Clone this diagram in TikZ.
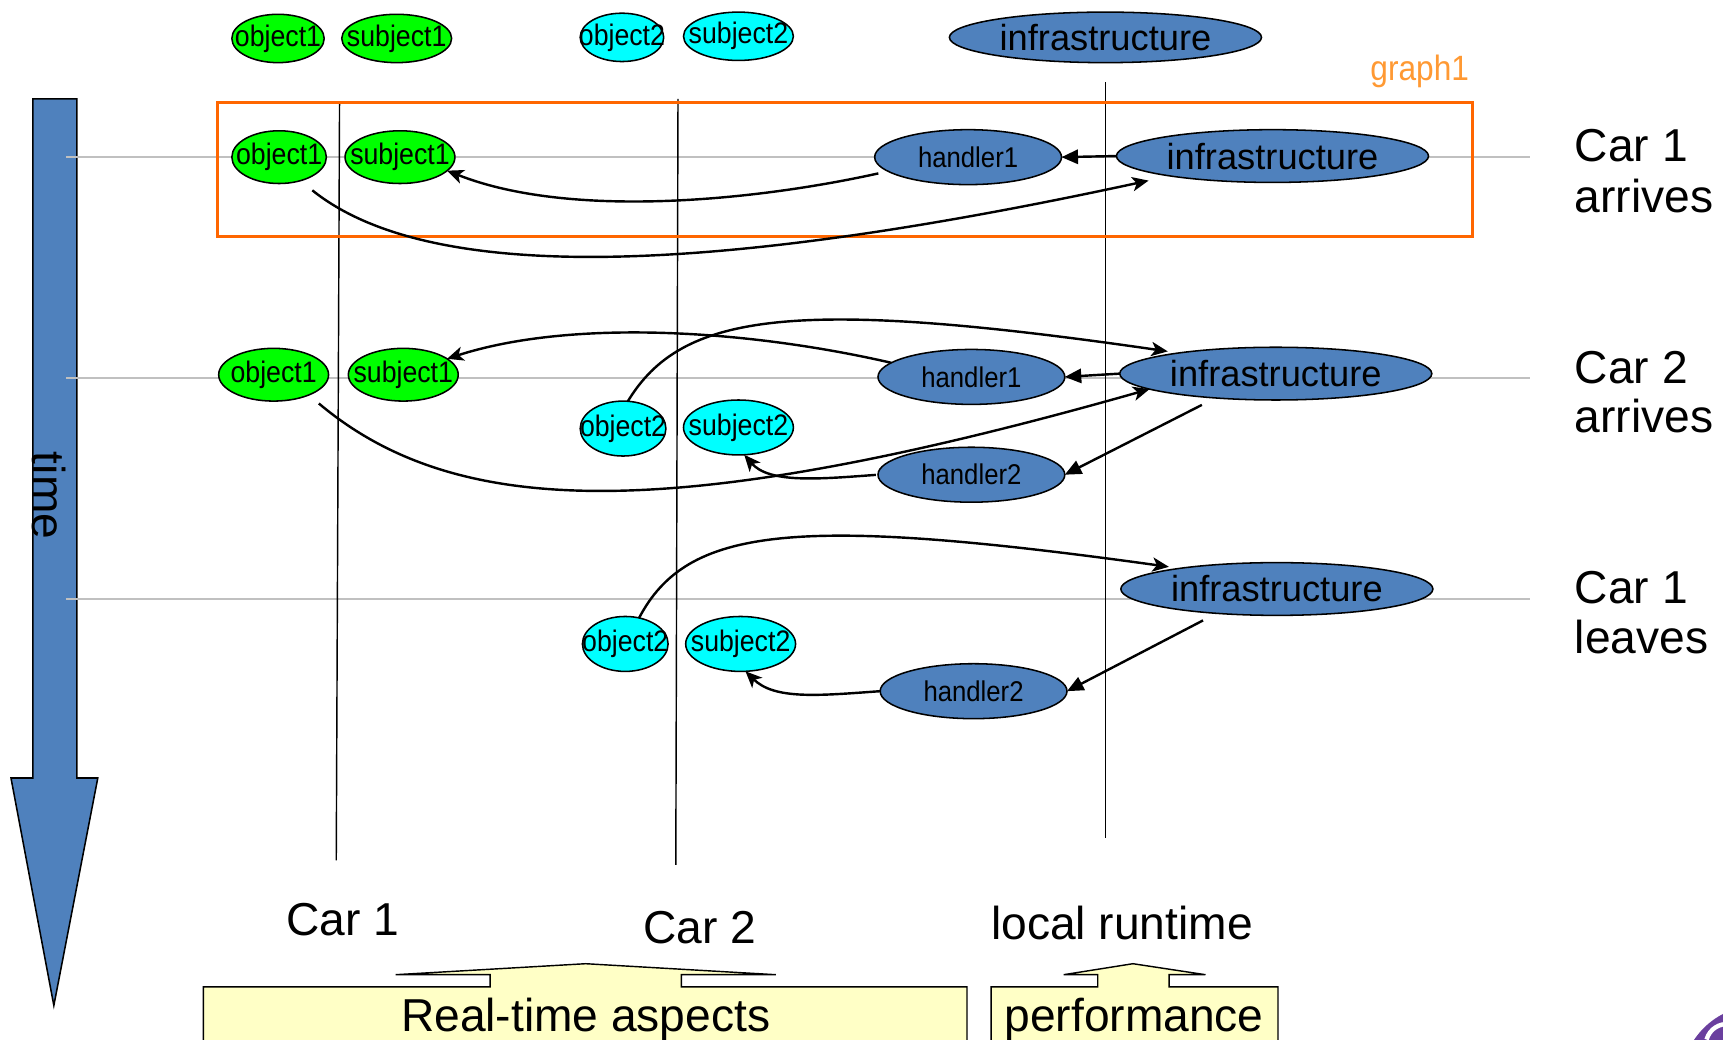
\documentclass[tikz,border=0pt]{standalone}
\usepackage{fontspec}
\setmainfont{Liberation Sans}
\newfontfamily\tagfont[FakeStretch=0.9]{Liberation Sans}
\usetikzlibrary{arrows.meta,shapes.geometric}

\definecolor{nodeblue}{HTML}{4F81BD}
\definecolor{carone}{HTML}{00FF00}
\definecolor{cartwo}{HTML}{00FFFF}
\definecolor{boxorange}{HTML}{FF6600}
\definecolor{labelorange}{HTML}{FF9933}
\definecolor{notefill}{HTML}{FFFFC6}
\definecolor{rulegray}{HTML}{C0C0C0}
\definecolor{logopurple}{HTML}{6A3F9E}

% keep the label from widening its ellipse
\newcommand\inbox[1]{\makebox[0pt][c]{#1}}

\begin{document}
\begin{tikzpicture}[x=1pt,y=-1pt,
  ent/.style={ellipse, draw=black, line width=1.4pt, inner sep=0pt, outer sep=0pt},
  carA/.style={ent, fill=carone, font=\tagfont\fontsize{27}{29}\selectfont},
  carB/.style={ent, fill=cartwo, font=\tagfont\fontsize{27}{29}\selectfont},
  rt/.style={ent, fill=nodeblue},
  hnd/.style={rt, minimum width=170pt, minimum height=50pt, font=\tagfont\fontsize{26}{28}\selectfont},
  infra/.style={rt, minimum width=284pt, minimum height=48pt, font=\fontsize{33}{36}\selectfont},
  flow/.style={line width=2.2pt, -{Stealth[length=15pt,width=13pt,inset=4pt]}},
  push/.style={line width=2.2pt, -{Triangle[length=15pt,width=13pt]}},
  heading/.style={font=\fontsize{42}{46}\selectfont, anchor=base, inner sep=0pt},
  sidenote/.style={heading, anchor=base west},
  lifeline/.style={line width=1.3pt, draw=black},
  timeline/.style={line width=1.3pt, draw=rulegray},
  callout/.style={draw=black, line width=1.3pt, fill=notefill}
]
\useasboundingbox (0,0) rectangle (1568,946);

% time axis
\draw[fill=nodeblue, line width=1.4pt] (30,90) -- (70,90) -- (70,708) -- (89,708)
  -- (49,915) -- (10,708) -- (30,708) -- cycle;
\node[rotate=-90, font=\fontsize{42}{46}\selectfont, inner sep=0pt] (timelbl) at (45,451) {time};

% event rows
\draw[timeline] (60,143) -- (1392,143);
\draw[timeline] (60,344) -- (1392,344);
\draw[timeline] (60,545) -- (1392,545);

% life lines
\draw[lifeline] (309,93) -- (306,783);
\draw[lifeline] (617,90) -- (615,787);
\draw[lifeline] (1006,75) -- (1006,763);

% first graph
\draw[draw=boxorange, line width=3pt] (198,93) rectangle (1340,215);
\node[font=\tagfont\fontsize{32}{34}\selectfont, text=labelorange, inner sep=0pt] (graphlbl) at (1292,65) {graph1};

% header row
\node[carA, minimum width=84pt, minimum height=44pt] (to1) at (253,35) {\inbox{object1}};
\node[carA, minimum width=100pt, minimum height=44pt] (ts1) at (361,35) {\inbox{subject1}};
\node[carB, minimum width=76pt, minimum height=44pt] (to2) at (566,34) {\inbox{object2}};
\node[carB, minimum width=100pt, minimum height=44pt] (ts2) at (672,33) {\inbox{subject2}};
\node[infra, minimum height=46pt] (tinf) at (1006,34) {\inbox{infrastructure}};

% Car 1 arrives
\node[carA, minimum width=86pt, minimum height=48pt] (ao1) at (254,143) {\inbox{object1}};
\node[carA, minimum width=100pt, minimum height=48pt] (as1) at (364,143) {\inbox{subject1}};
\node[hnd] (ah1) at (881,143) {\inbox{handler1}};
\node[infra] (ainf) at (1158,142) {\inbox{infrastructure}};

\draw[push] (ainf.west) -- (ah1.east);
\draw[flow, shorten <=9pt] (ah1.190) .. controls (690,182) and (520,200) .. (as1.-16);
\draw[flow, shorten <=14pt, shorten >=20pt] (ao1.-48) .. controls (390,258) and (640,252) .. (ainf.191);

% Car 2 arrives
\node[carA, minimum width=100pt, minimum height=48pt] (bo1) at (249,341) {\inbox{object1}};
\node[carA, minimum width=100pt, minimum height=48pt] (bs1) at (367,341) {\inbox{subject1}};
\node[hnd] (bh1) at (884,343) {\inbox{handler1}};
\node[infra] (binf) at (1161,340) {\inbox{infrastructure}};
\node[carB, minimum width=78pt, minimum height=50pt] (bo2) at (567,390) {\inbox{object2}};
\node[carB, minimum width=100pt, minimum height=50pt] (bs2) at (672,389) {\inbox{subject2}};
\node[hnd] (bh2) at (884,432) {\inbox{handler2}};

\draw[push] (binf.west) -- (bh1.east);
\draw[flow] (bh1.170) .. controls (680,300) and (520,290) .. (bs1.20);
\draw[flow, shorten >=10pt] (bo2.80) .. controls (620,285) and (720,270) .. (binf.168);
\draw[flow, shorten <=12pt] (bo1.-30) .. controls (415,472) and (610,478) .. (binf.187);
\draw[push, shorten <=14pt] (binf.-158) -- (bh2.east);
\draw[flow, shorten <=2pt] (bh2.west) .. controls (745,436) and (700,440) .. (bs2.-78);

% Car 1 leaves
\node[infra] (cinf) at (1162,536) {\inbox{infrastructure}};
\node[carB, minimum width=78pt, minimum height=50pt] (co2) at (569,586) {\inbox{object2}};
\node[carB, minimum width=100pt, minimum height=50pt] (cs2) at (674,586) {\inbox{subject2}};
\node[hnd] (ch2) at (886,629) {\inbox{handler2}};

\draw[flow, shorten >=10pt] (co2.62) .. controls (625,480) and (720,468) .. (cinf.168);
\draw[push, shorten <=14pt] (cinf.-158) -- (ch2.east);
\draw[flow] (ch2.west) .. controls (745,633) and (705,637) .. (cs2.-80);

% event names
\node[sidenote] (ev1a) at (1433,147) {Car 1};
\node[sidenote] (ev1b) at (1433,193) {arrives};
\node[sidenote] (ev2a) at (1433,349) {Car 2};
\node[sidenote] (ev2b) at (1433,394) {arrives};
\node[sidenote] (ev3a) at (1433,549) {Car 1};
\node[sidenote] (ev3b) at (1433,595) {leaves};

% life line names
\node[heading] (lane1) at (312,851) {Car 1};
\node[heading] (lane2) at (637,859) {Car 2};
\node[heading] (lane3) at (1021,855) {local runtime};

% callouts
\draw[callout] (185,960) -- (185,898) -- (446,898) -- (446,887) -- (360,887) -- (533,877)
  -- (706,887) -- (620,887) -- (620,898) -- (880,898) -- (880,960);
\node[heading] (rtnote) at (533,939) {Real-time aspects};
\draw[callout] (902,960) -- (902,898) -- (999,898) -- (999,887) -- (968,887) -- (1031,877)
  -- (1097,887) -- (1064,887) -- (1064,898) -- (1163,898) -- (1163,960);
\node[heading] (perfnote) at (1032,939) {performance};

% corner logo
\fill[logopurple] (1600,985) circle[radius=70];
\draw[white, line width=4pt] (1553,946) .. controls (1556,936) and (1565,931) .. (1574,932);
\end{tikzpicture}
\end{document}
